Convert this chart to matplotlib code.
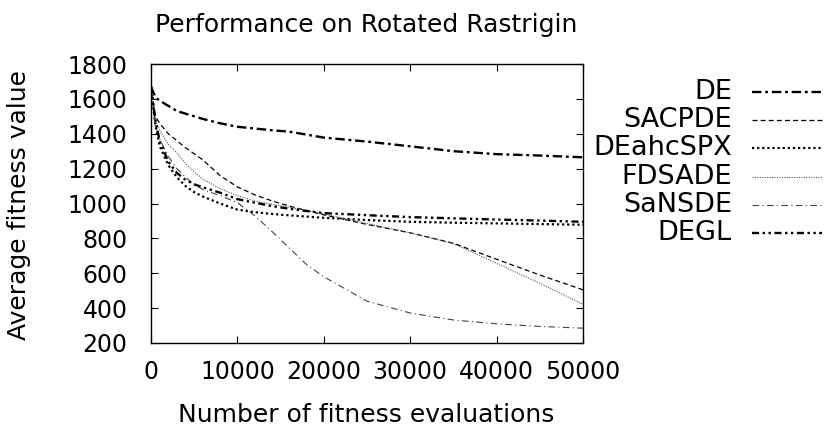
import numpy as np
import matplotlib
matplotlib.use("Agg")
import matplotlib.pyplot as plt
from matplotlib.lines import Line2D

plt.rcParams['font.family'] = ['DejaVu Sans']

# ----------------------------
# Data
# ----------------------------
evals = [0, 500, 1000, 2000, 3000, 4000, 5000, 6000, 8000, 10000, 12000,
         14000, 16000, 18000, 20000, 25000, 30000, 35000, 40000, 45000, 50000]

de = [1670, 1610, 1590, 1560, 1530, 1515, 1500, 1485, 1460, 1440, 1430,
      1420, 1412, 1395, 1378, 1355, 1328, 1300, 1283, 1275, 1265]
sacpde = [1670, 1500, 1460, 1400, 1360, 1320, 1285, 1250, 1160, 1095, 1050,
          1015, 985, 960, 935, 880, 832, 772, 680, 590, 505]
deahcspx = [1670, 1450, 1330, 1220, 1150, 1100, 1065, 1040, 1000, 965, 950,
            940, 932, 925, 918, 905, 895, 890, 886, 882, 878]
fdsade = [1670, 1480, 1420, 1340, 1290, 1230, 1180, 1140, 1085, 1045, 1015,
          995, 978, 960, 940, 885, 832, 770, 657, 543, 422]
sansde = [1670, 1450, 1370, 1270, 1200, 1150, 1110, 1080, 1045, 1005, 930,
          840, 745, 650, 580, 440, 372, 332, 310, 295, 285]
degl = [1670, 1480, 1360, 1240, 1175, 1135, 1110, 1093, 1062, 1025, 1005,
        985, 970, 957, 945, 933, 922, 915, 908, 902, 895]

names = ["DE", "SACPDE", "DEahcSPX", "FDSADE", "SaNSDE", "DEGL"]
series = [de, sacpde, deahcspx, fdsade, sansde, degl]

# line styles (gnuplot-like monochrome)
styles = [
    dict(color="black", lw=1.7, dashes=(4, 1.6, 1.2, 1.6)),
    dict(color="black", lw=0.9, dashes=(4, 2.5)),
    dict(color="black", lw=1.6, dashes=(1, 1.3)),
    dict(color="#555555", lw=0.8, dashes=(1, 1.2)),
    dict(color="#444444", lw=0.8, dashes=(6, 3, 1, 3)),
    dict(color="black", lw=1.7, dashes=(3, 1.5, 1, 1.5, 1, 1.5)),
]

# ----------------------------
# Figure
# ----------------------------
W, H = 824, 428
fig = plt.figure(figsize=(W / 100, H / 100), dpi=100)
ax = fig.add_axes([151 / W, 1 - 343 / H, (583 - 151) / W, (343 - 64) / H])

for name, vals, st in zip(names, series, styles):
    ax.plot(evals, vals, label=name, **st)

ax.set_xlim(0, 50000)
ax.set_ylim(200, 1800)
ax.set_xticks(range(0, 50001, 10000))
ax.set_yticks(range(200, 1801, 200))
ax.tick_params(direction="in", top=True, right=True, length=5, width=0.8,
               labelsize=17)
ax.tick_params(axis="x", pad=12)
ax.tick_params(axis="y", pad=17)
for s in ax.spines.values():
    s.set_linewidth(1.0)

fig.text(366 / W, 1 - 32 / H, "Performance on Rotated Rastrigin",
         ha="center", va="baseline", fontsize=18)
fig.text(366 / W, 1 - 422 / H, "Number of fitness evaluations",
         ha="center", va="baseline", fontsize=18)
fig.text(19 / W, 1 - 205 / H, "Average fitness value", rotation=90,
         ha="center", va="center", fontsize=18)

# legend, gnuplot style: label right-aligned, sample to the right
row_y = [91.7, 120, 148.3, 176.7, 205, 233.3]
for name, st, yy in zip(names, styles, row_y):
    fy = 1 - yy / H
    fig.text(732 / W, fy, name, ha="right", va="center", fontsize=19.5)
    fig.add_artist(Line2D([752 / W, 822 / W], [fy, fy],
                          transform=fig.transFigure, **st))

fig.savefig("out.png", dpi=100)
